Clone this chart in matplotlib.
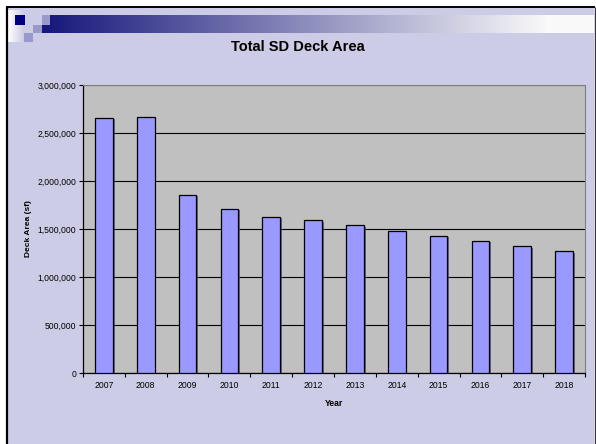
import matplotlib
matplotlib.use("Agg")
import matplotlib.pyplot as plt
import matplotlib.patheffects as pe
from matplotlib.patches import Rectangle
from matplotlib.ticker import FuncFormatter, FixedLocator
import numpy as np

years = ["2007", "2008", "2009", "2010", "2011", "2012",
         "2013", "2014", "2015", "2016", "2017", "2018"]
deck_area = [2659000, 2670000, 1857000, 1711000, 1630000, 1590000,
             1538000, 1482000, 1430000, 1375000, 1319000, 1267000]

title = "Total SD Deck Area"
x_label = "Year"
y_label = "Deck Area (sf)"

plt.rcParams['font.family'] = ['Liberation Sans', 'DejaVu Sans']

W, H = 596, 444
fig = plt.figure(figsize=(W / 100, H / 100), dpi=100, facecolor='white')

# Background slide decoration
bg = fig.add_axes([0, 0, 1, 1], zorder=-10)
lav = '#CCCCE6'
bg.add_patch(Rectangle((7, 8), 587, H - 8, facecolor=lav, edgecolor='none', zorder=1))
# left white gradient strip
grad_l = np.linspace(1, 0, 64).reshape(1, -1)
lav_rgb = np.array(matplotlib.colors.to_rgb(lav))
img_l = (grad_l[..., None] * np.array([1, 1, 1]) + (1 - grad_l[..., None]) * lav_rgb)
bg.imshow(img_l, extent=(8, 24, 42, 10), aspect='auto', interpolation='bilinear', zorder=2)
# gradient bar
t = np.clip(np.linspace(0, 1, 512) / 0.92, 0, 1)
navy = np.array(matplotlib.colors.to_rgb('#14147A'))
white = np.array([0.98, 0.98, 0.98])
img = (1 - t)[:, None] * navy + t[:, None] * white
bg.imshow(img[None, :, :], extent=(37, 594, 33, 15), aspect='auto', interpolation='bilinear', zorder=2)
bg.add_patch(Rectangle((24, 15), 19, 10, facecolor='#CCCCE6', edgecolor='none', zorder=3))
bg.add_patch(Rectangle((15, 15), 10, 10, facecolor='#000080', edgecolor='none', zorder=3))
bg.add_patch(Rectangle((42, 15), 8, 10, facecolor='#9999CC', edgecolor='none', zorder=3))
bg.add_patch(Rectangle((33, 25), 9, 8, facecolor='#9999CC', edgecolor='none', zorder=3))
bg.add_patch(Rectangle((24, 33), 9, 9, facecolor='#9999CC', edgecolor='none', zorder=3))
# borders
bg.plot([7, 7], [7, H], color='black', lw=1.6, solid_capstyle='butt', zorder=4)
bg.plot([6, 595], [7.5, 7.5], color='black', lw=1.4, solid_capstyle='butt', zorder=4)
bg.plot([594.5, 594.5], [7, H], color='#333344', lw=1.0, solid_capstyle='butt', zorder=4)
bg.set_xlim(0, W)
bg.set_ylim(H, 0)
bg.axis('off')

fig.text(298 / W, 1 - 47 / H, title, ha='center', va='center',
         fontsize=10.5, fontweight='bold', color='black')

ax = fig.add_axes([83 / W, (H - 373) / H, 502 / W, 288 / H])
ax.set_facecolor('#C0C0C0')
x = np.arange(len(years))
ax.set_xlim(-0.5, len(years) - 0.5)
ax.set_ylim(0, 3000000)
ax.set_yticks(np.arange(0, 3000001, 500000))
ax.yaxis.set_major_formatter(FuncFormatter(lambda v, p: f"{int(v):,}"))
ax.yaxis.grid(True, color='black', lw=0.8)
ax.set_axisbelow(True)

bars = ax.bar(x, deck_area, width=0.42, color='#9999FF', edgecolor='black', linewidth=0.9, zorder=3)
for b in bars:
    b.set_path_effects([pe.SimplePatchShadow(offset=(1.3, -1.0), shadow_rgbFace='#444466', alpha=0.7),
                        pe.Normal()])

ax.set_xticks(x)
ax.set_xticklabels(years)
ax.xaxis.set_minor_locator(FixedLocator(np.arange(-0.5, len(years), 1.0)))
ax.tick_params(axis='x', which='major', length=0, labelsize=6.2, pad=6)
ax.tick_params(axis='x', which='minor', length=3, width=0.8, direction='out')
ax.tick_params(axis='y', which='major', length=3, width=0.8, labelsize=6.2, pad=2)

for s in ['top', 'right']:
    ax.spines[s].set_color('#808080')
    ax.spines[s].set_linewidth(0.8)
for s in ['left', 'bottom']:
    ax.spines[s].set_color('black')
    ax.spines[s].set_linewidth(0.9)

ax.set_xlabel(x_label, fontsize=6.2, fontweight='bold', labelpad=6)
ax.set_ylabel(y_label, fontsize=6, fontweight='bold', labelpad=4)

fig.savefig('out.png', dpi=100, facecolor=fig.get_facecolor())
